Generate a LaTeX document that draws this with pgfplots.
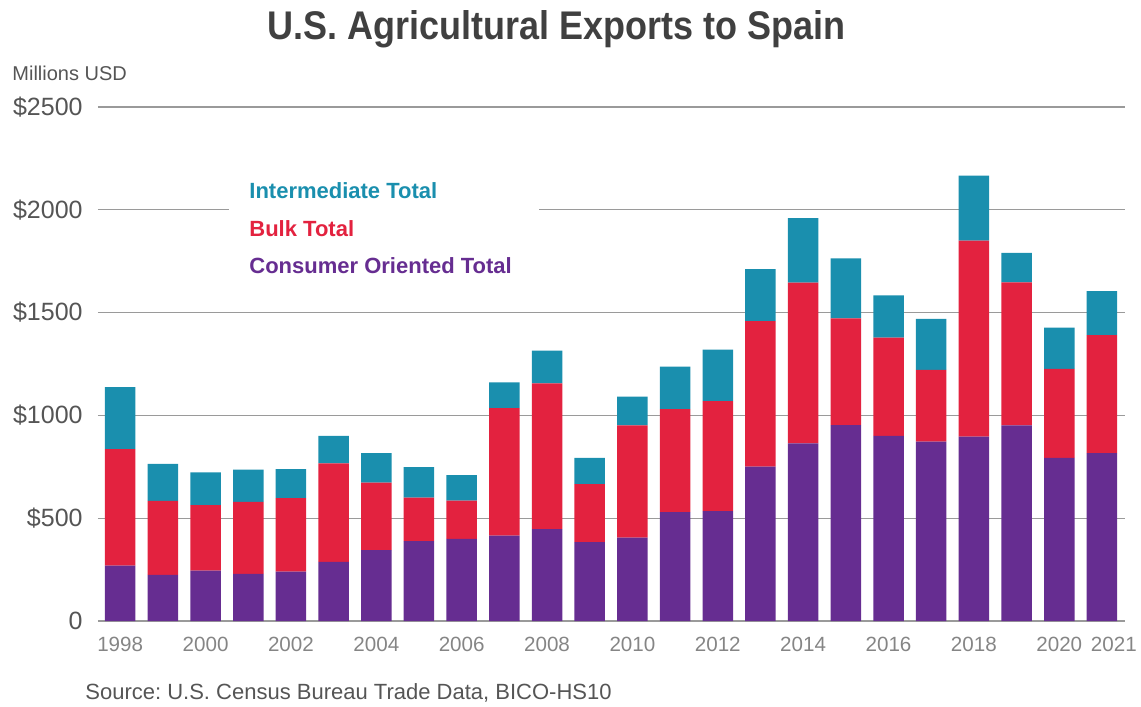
\documentclass[border=0pt]{standalone}
\usepackage{pgfplots}
\pgfplotsset{compat=1.18}
\usepackage{fontspec}
\setmainfont{Liberation Sans}
\usepackage{graphicx}
\frenchspacing

\definecolor{cons}{HTML}{662D91}
\definecolor{bulk}{HTML}{E3223F}
\definecolor{inter}{HTML}{1A8FAE}
\definecolor{titlegray}{HTML}{404040}
\definecolor{labgray}{HTML}{555555}
\definecolor{yeargray}{HTML}{858585}
\definecolor{gridgray}{HTML}{9A9A9A}
\definecolor{basegray}{HTML}{6A6A6A}

\begin{document}
\begin{tikzpicture}[x=0.5pt,y=0.5pt]
  % page = 1141 x 707 px, 1px = 0.5pt, origin bottom left
  \path[use as bounding box] (0,0) rectangle (1141,707);

  \begin{axis}[
      at={(49pt,43pt)}, anchor=south west,
      scale only axis,
      width=513.5pt, height=257pt,
      ybar stacked,
      bar width=15.25pt,
      xmin=1997.48, xmax=2021.54,
      ymin=0, ymax=2500,
      axis line style={draw=none},
      major tick length=0pt,
      ytick={500,1000,1500,2000,2500},
      yticklabels={\$500,\$1000,\$1500,\$2000,\$2500},
      extra y ticks={0},
      extra y tick labels={0},
      extra y tick style={grid style={draw=basegray, line width=0.8pt}},
      ymajorgrids,
      major grid style={draw=gridgray, line width=0.6pt},
      xtick={1998,2000,2002,2004,2006,2008,2010,2012,2014,2016,2018,2020,2021.28},
      xticklabels={1998,2000,2002,2004,2006,2008,2010,2012,2014,2016,2018,2020,2021},
      /pgf/number format/assume math mode=true,
      yticklabel style={anchor=east, inner sep=0pt, xshift=-7.5pt,
        text=labgray, font=\fontsize{12.5pt}{14pt}\selectfont},
      xticklabel style={anchor=north, inner sep=0pt, yshift=-7.8pt,
        text=yeargray, font=\fontsize{10.3pt}{12pt}\selectfont},
    ]
    \addplot[fill=cons, draw=none] coordinates {
      (1998,269) (1999,224) (2000,245) (2001,229) (2002,240) (2003,287)
      (2004,345) (2005,388) (2006,399) (2007,415) (2008,447) (2009,384)
      (2010,405) (2011,529) (2012,535) (2013,751) (2014,864) (2015,953)
      (2016,900) (2017,872) (2018,897) (2019,952) (2020,794) (2021,816)};
    \addplot[fill=bulk, draw=none] coordinates {
      (1998,567) (1999,360) (2000,318) (2001,351) (2002,358) (2003,480)
      (2004,328) (2005,212) (2006,186) (2007,620) (2008,709) (2009,282)
      (2010,547) (2011,502) (2012,535) (2013,708) (2014,782) (2015,519)
      (2016,478) (2017,350) (2018,953) (2019,695) (2020,432) (2021,575)};
    \addplot[fill=inter, draw=none] coordinates {
      (1998,301) (1999,180) (2000,160) (2001,156) (2002,141) (2003,133)
      (2004,143) (2005,149) (2006,124) (2007,126) (2008,159) (2009,127)
      (2010,139) (2011,206) (2012,250) (2013,253) (2014,313) (2015,292)
      (2016,206) (2017,247) (2018,316) (2019,144) (2020,201) (2021,213)};
  \end{axis}

  % title
  \node[anchor=base, inner sep=0pt, text=titlegray,
        font=\fontsize{20pt}{24pt}\selectfont\bfseries] at (556.5,667)
        {\scalebox{0.9}[1]{U.S. Agricultural Exports to Spain}};
  % unit label
  \node[anchor=base west, inner sep=0pt, text=labgray,
        font=\fontsize{10pt}{12pt}\selectfont] at (12,626.5) {Millions USD};
  % legend
  \fill[white] (229,532) rectangle (539,422);
  \begin{scope}[every node/.style={anchor=base west, inner sep=0pt,
        font=\fontsize{11pt}{13pt}\selectfont\bfseries}]
    \node[text=inter] at (249,508.3) {Intermediate Total};
    \node[text=bulk]  at (249,470)   {Bulk Total};
    \node[text=cons]  at (249,433)   {Consumer Oriented Total};
  \end{scope}
  % source
  \node[anchor=base west, inner sep=0pt, text=labgray,
        font=\fontsize{11pt}{13pt}\selectfont] at (85,7)
        {Source: U.S. Census Bureau Trade Data, BICO-HS10};
\end{tikzpicture}
\end{document}
